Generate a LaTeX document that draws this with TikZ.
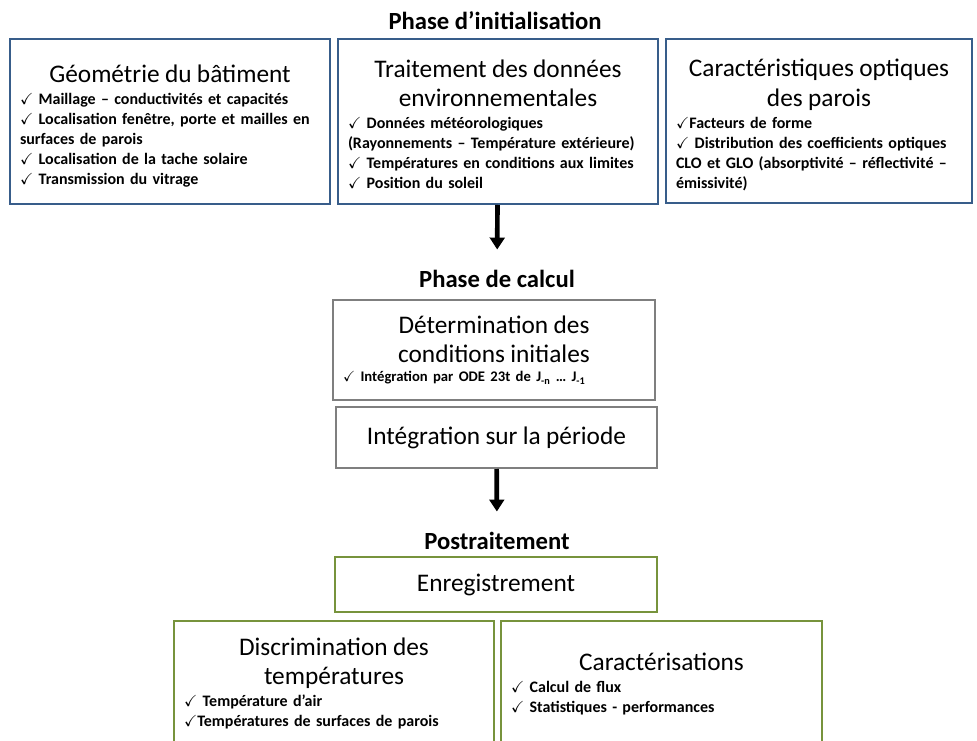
\documentclass[tikz,border=0pt]{standalone}
\usepackage{fontspec}
\setmainfont{Carlito}
\usepackage{amssymb}
\usetikzlibrary{arrows.meta}
\definecolor{blueline}{RGB}{56,93,138}
\definecolor{greyline}{RGB}{127,127,127}
\definecolor{greenline}{RGB}{119,147,60}
\newcommand{\chk}{$\checkmark$}
\newcommand{\boxhead}[2][0pt]{{\centering\mdseries\fontsize{19}{22}\selectfont\raisebox{0pt}[#1][0pt]{}#2\par}\vspace{1.5pt}}
\tikzset{
  box/.style={rectangle,draw,line width=1.5pt,fill=white,inner xsep=7.5pt,inner ysep=3pt,align=left,
    font=\fontsize{12}{15}\selectfont\bfseries},
  bluebox/.style={box,draw=blueline},
  greybox/.style={box,draw=greyline},
  greenbox/.style={box,draw=greenline},
  phase/.style={font=\fontsize{18.5}{20}\selectfont\bfseries},
  bigarrow/.style={-{Triangle[width=11pt,length=9pt]},line width=3.5pt}
}
\begin{document}
\begin{tikzpicture}[x=0.75pt,y=-0.75pt]
\useasboundingbox (0,0) rectangle (977,741);
%
\node at (495,21) [phase] (init) {Phase d’initialisation};
\node at (497,279) [phase] (calc) {Phase de calcul};
\node at (497,541) [phase] (post) {Postraitement};
%
\node at (170,121.5) [bluebox,text width=225pt,minimum height=123.75pt] (geo) {%
\boxhead[20pt]{Géométrie du bâtiment}
\chk\ Maillage – conductivités et capacités\\
\chk\ Localisation fenêtre, porte et mailles en\\
surfaces de parois\\
\chk\ Localisation de la tache solaire\\
\chk\ Transmission du vitrage};
\node at (498,121.5) [bluebox,text width=225pt,minimum height=123.75pt] (trait) {%
\boxhead[17.5pt]{Traitement des données\\ environnementales}
\chk\ Données météorologiques\\
(Rayonnements – Température extérieure)\\
\chk\ Températures en conditions aux limites\\
\chk\ Position du soleil};
\node at (819,121) [bluebox,text width=214.5pt,minimum height=123pt] (optic) {%
\boxhead[19pt]{Caractéristiques optiques\\ des parois}
\chk Facteurs de forme\\
\chk\ Distribution des coefficients optiques\\
CLO et GLO (absorptivité – réflectivité –\\
émissivité)};
%
\node at (494,350) [greybox,text width=226.5pt,minimum height=75pt] (cinit) {%
\boxhead{Détermination des\\ conditions initiales}
{\fontsize{11}{13}\selectfont \chk\ Intégration par ODE 23t de J\textsubscript{-n} … J\textsubscript{-1}\par}};
\node at (496.5,437.5) [greybox,text width=225.75pt,minimum height=45.75pt] (integ) {%
{\centering\mdseries\fontsize{19}{22}\selectfont Intégration sur la période\par}};
%
\node at (496,584.5) [greenbox,text width=226.5pt,minimum height=41.25pt] (enreg) {%
{\centering\mdseries\fontsize{19}{22}\selectfont Enregistrement\par}};
\node at (334,683.5) [greenbox,text width=225pt,minimum height=93.75pt] (discr) {%
\boxhead{Discrimination des\\ températures}
\chk\ Température d’air\\
\chk Températures de surfaces de parois};
\node at (661.5,683.5) [greenbox,text width=225.75pt,minimum height=93.75pt] (carac) {%
\boxhead{Caractérisations}
\chk\ Calcul de flux\\
\chk\ Statistiques - performances};
%
\draw[bigarrow,shorten >=12pt] (trait) -- (calc);
\draw[bigarrow,shorten >=12pt] (integ) -- (post);
\end{tikzpicture}
\end{document}
